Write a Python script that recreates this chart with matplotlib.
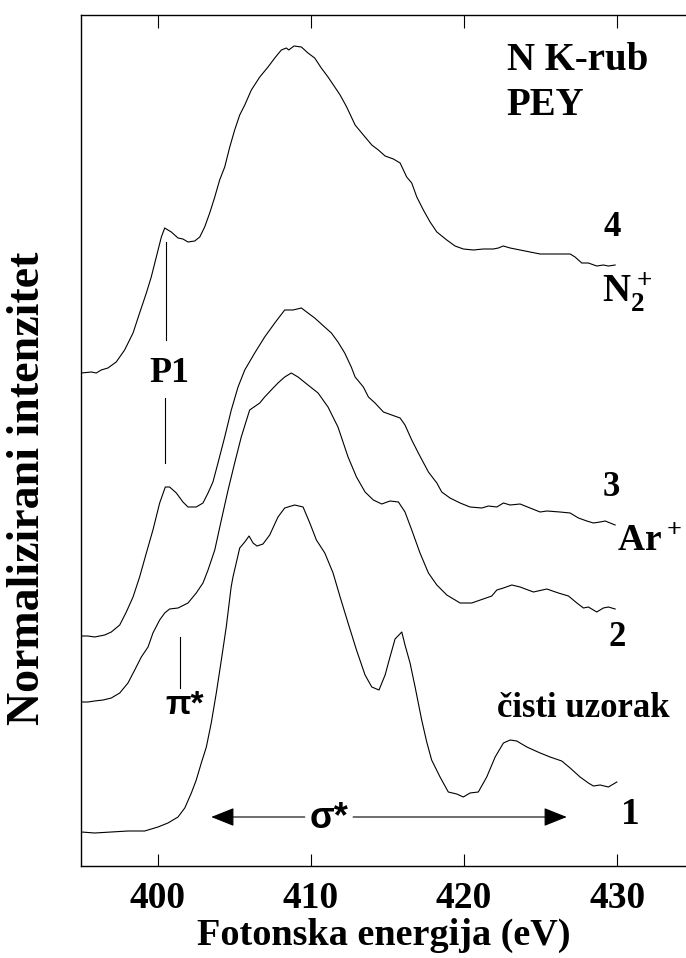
import numpy as np
import matplotlib.pyplot as plt

plt.rcParams['font.family'] = ['Liberation Serif', 'DejaVu Serif']
plt.rcParams['font.weight'] = 'bold'
plt.rcParams['mathtext.fontset'] = 'custom'
plt.rcParams['mathtext.rm'] = 'Liberation Serif:bold'
plt.rcParams['mathtext.bf'] = 'Liberation Serif:bold'

# photon energy (eV) and stacked intensity (arb. units)
energy_1 = [395.0, 395.86, 396.95, 398.04, 399.13, 400.0, 400.65, 401.31, 401.75, 402.18, 402.5, 402.83,
            403.16, 403.48, 403.81, 404.14, 404.46, 404.78, 404.9, 405.34, 405.67, 405.95, 406.21, 406.47,
            406.86, 407.3, 407.84, 408.28, 408.93, 409.48, 409.92, 410.35, 410.9, 411.44, 411.9, 412.42,
            412.97, 413.53, 413.97, 414.44, 414.84, 415.16, 415.49, 415.93, 416.14, 416.47, 416.8, 417.23,
            417.56, 417.88, 418.43, 418.97, 419.52, 419.95, 420.39, 420.93, 421.48, 422.03, 422.57, 423.01,
            423.44, 424.1, 424.97, 425.62, 426.38, 426.93, 427.58, 428.12, 428.45, 428.89, 429.43, 429.98]
clean = [0.34, 0.33, 0.34, 0.35, 0.35, 0.39, 0.43, 0.49, 0.58, 0.73, 0.86, 1.03,
         1.19, 1.43, 1.73, 2.06, 2.39, 2.79, 2.89, 3.18, 3.24, 3.30, 3.23, 3.20,
         3.22, 3.31, 3.49, 3.58, 3.61, 3.59, 3.43, 3.26, 3.13, 2.93, 2.69, 2.43,
         2.16, 1.91, 1.79, 1.76, 1.91, 2.09, 2.27, 2.34, 2.21, 2.03, 1.79, 1.46,
         1.24, 1.06, 0.89, 0.74, 0.72, 0.69, 0.73, 0.74, 0.89, 1.09, 1.23, 1.26,
         1.25, 1.19, 1.13, 1.09, 1.05, 0.98, 0.89, 0.83, 0.80, 0.81, 0.79, 0.84]

energy_2 = [395.0, 395.42, 395.86, 396.41, 396.95, 397.5, 398.04, 398.48, 398.91, 399.35, 399.67, 400.11,
            400.44, 400.76, 401.31, 401.96, 402.5, 402.94, 403.27, 403.71, 404.14, 404.58, 405.01, 405.44,
            405.99, 406.65, 406.97, 407.4, 407.84, 408.28, 408.71, 409.15, 409.8, 410.46, 411.11, 411.76,
            412.42, 412.97, 413.53, 414.07, 414.62, 415.16, 415.71, 416.14, 416.58, 417.12, 417.67, 418.22,
            418.87, 419.74, 420.5, 421.25, 421.81, 422.14, 422.57, 423.12, 423.66, 424.53, 425.41, 426.16,
            426.82, 427.37, 427.8, 428.12, 428.67, 429.1, 429.43, 429.87]
ar_ion = [1.64, 1.64, 1.65, 1.66, 1.68, 1.73, 1.83, 1.96, 2.09, 2.19, 2.33, 2.46,
          2.53, 2.57, 2.58, 2.63, 2.73, 2.83, 2.96, 3.16, 3.46, 3.76, 4.03, 4.29,
          4.56, 4.63, 4.69, 4.76, 4.83, 4.89, 4.93, 4.89, 4.81, 4.73, 4.59, 4.39,
          4.09, 3.89, 3.74, 3.66, 3.62, 3.65, 3.64, 3.54, 3.36, 3.13, 2.93, 2.81,
          2.71, 2.63, 2.63, 2.67, 2.70, 2.76, 2.78, 2.81, 2.79, 2.74, 2.77, 2.73,
          2.70, 2.63, 2.58, 2.59, 2.54, 2.58, 2.59, 2.57]

energy_3 = [395.0, 395.42, 395.86, 396.52, 396.95, 397.5, 397.93, 398.37, 398.8, 399.24, 399.67, 400.11,
            400.48, 400.76, 401.2, 401.63, 401.96, 402.5, 402.94, 403.27, 403.59, 403.92, 404.36, 404.79,
            405.23, 405.67, 406.32, 406.97, 407.63, 408.28, 408.82, 409.37, 409.8, 410.24, 410.89, 411.33,
            411.76, 412.2, 412.63, 412.88, 413.42, 413.75, 414.18, 414.73, 415.27, 415.82, 416.14, 416.58,
            417.01, 417.67, 418.22, 418.54, 419.08, 419.74, 420.39, 421.16, 421.59, 422.14, 422.57, 423.01,
            423.66, 424.31, 424.97, 425.41, 426.27, 426.93, 427.47, 428.02, 428.45, 428.89, 429.22, 429.87]
n2_after = [2.30, 2.30, 2.29, 2.31, 2.34, 2.41, 2.54, 2.69, 2.89, 3.13, 3.36, 3.63,
            3.79, 3.79, 3.73, 3.64, 3.59, 3.59, 3.63, 3.73, 3.84, 4.03, 4.29, 4.56,
            4.79, 4.96, 5.13, 5.29, 5.43, 5.56, 5.56, 5.58, 5.53, 5.48, 5.39, 5.33,
            5.24, 5.13, 4.99, 4.89, 4.79, 4.69, 4.63, 4.54, 4.51, 4.48, 4.41, 4.26,
            4.13, 3.94, 3.83, 3.74, 3.68, 3.63, 3.59, 3.58, 3.60, 3.59, 3.63, 3.61,
            3.62, 3.58, 3.54, 3.55, 3.54, 3.53, 3.48, 3.45, 3.43, 3.44, 3.45, 3.41]

energy_4 = [395.0, 395.64, 395.97, 396.29, 396.73, 397.27, 397.82, 398.37, 398.8, 399.24, 399.56, 399.89,
            400.22, 400.44, 400.87, 401.31, 401.63, 401.96, 402.4, 402.73, 403.05, 403.38, 403.71, 404.03,
            404.36, 404.69, 405.01, 405.34, 405.67, 406.1, 406.65, 407.19, 407.63, 408.06, 408.39, 408.54,
            408.89, 409.37, 409.8, 410.24, 410.67, 411.11, 411.55, 411.9, 412.33, 412.88, 413.42, 413.97,
            414.4, 414.84, 415.38, 415.82, 416.25, 416.58, 416.91, 417.34, 417.78, 418.22, 418.87, 419.41,
            419.95, 420.61, 421.25, 421.91, 422.24, 422.56, 423.01, 423.66, 424.31, 424.97, 425.84, 426.93,
            427.25, 427.69, 428.12, 428.67, 429.1, 429.43, 429.87]
n2_ion = [4.93, 4.94, 4.93, 4.96, 4.98, 5.04, 5.16, 5.33, 5.53, 5.73, 5.89, 6.09,
          6.29, 6.38, 6.34, 6.28, 6.27, 6.24, 6.25, 6.29, 6.39, 6.53, 6.69, 6.86,
          6.99, 7.19, 7.36, 7.51, 7.61, 7.76, 7.89, 7.99, 8.08, 8.16, 8.18, 8.16,
          8.20, 8.19, 8.13, 8.08, 7.98, 7.89, 7.79, 7.71, 7.59, 7.41, 7.31, 7.21,
          7.16, 7.10, 7.07, 7.03, 6.89, 6.83, 6.69, 6.56, 6.44, 6.34, 6.26, 6.20,
          6.17, 6.16, 6.17, 6.17, 6.18, 6.20, 6.18, 6.16, 6.14, 6.12, 6.12, 6.12,
          6.09, 6.03, 6.03, 6.00, 6.01, 6.00, 6.01]

x_ticks = [400, 410, 420, 430]

fig = plt.figure(figsize=(6.86, 9.58), dpi=100)
ax = fig.add_axes([81 / 686, 92 / 958, 605 / 686, 851 / 958])

for e, s in [(energy_1, clean), (energy_2, ar_ion), (energy_3, n2_after), (energy_4, n2_ion)]:
    ax.plot(e, s, color='black', lw=0.8)

ax.set_xlim(394.97, 434.5)
ax.set_ylim(0, 8.51)
ax.set_xticks(x_ticks)
ax.set_yticks([])
ax.tick_params(axis='x', direction='in', top=True, length=9, width=0.8, labelsize=27, pad=11)
for lbl in ax.get_xticklabels():
    lbl.set_fontweight('bold')
ax.spines['right'].set_visible(False)
for sp in ['left', 'bottom', 'top']:
    ax.spines[sp].set_linewidth(1.0)

ax.set_xlabel('Fotonska energija (eV)', fontsize=27.5, fontweight='bold', labelpad=1)
fig.text(28 / 686, 1 - 488 / 958, 'Normalizirani intenzitet', rotation=90, fontsize=33,
         fontweight='bold', ha='center', va='center')

# peak markers
ax.plot([400.54, 400.54], [6.24, 5.26], color='black', lw=0.8)
ax.plot([400.44, 400.44], [4.68, 4.03], color='black', lw=0.8)
ax.text(400.76, 4.93, 'P1', fontsize=26, ha='center', va='center')
ax.plot([401.46, 401.46], [2.29, 1.78], color='black', lw=0.8)
ax.text(401.76, 1.60, 'π*', fontsize=24, ha='center', va='center', family='Liberation Sans')

# sigma* range
arrow = dict(arrowstyle='-|>,head_length=0.5,head_width=0.2', color='black', lw=0.8,
             mutation_scale=29, shrinkA=0, shrinkB=0)
ax.annotate('', xy=(403.48, 0.49), xytext=(409.59, 0.49), arrowprops=arrow)
ax.annotate('', xy=(426.71, 0.49), xytext=(412.75, 0.49), arrowprops=arrow)
ax.text(411.2, 0.48, 'σ*', fontsize=26, ha='center', va='center', family='Liberation Sans')

# labels
ax.text(422.78, 7.96, 'N K-rub', fontsize=28, ha='left', va='baseline')
ax.text(422.78, 7.51, 'PEY', fontsize=28, ha='left', va='baseline')
ax.text(429.67, 6.39, '4', fontsize=25, ha='center', va='center')
ax.text(429.0, 5.63, r'$\mathbf{N_2^+}$', fontsize=28, ha='left', va='baseline')
ax.text(429.65, 3.79, '3', fontsize=25, ha='center', va='center')
ax.text(429.97, 3.16, r'$\mathbf{Ar^+}$', fontsize=27, ha='left', va='baseline')
ax.text(430.03, 2.28, '2', fontsize=25, ha='center', va='center')
ax.text(422.13, 1.49, 'čisti uzorak', fontsize=25, ha='left', va='baseline')
ax.text(430.85, 0.51, '1', fontsize=27, ha='center', va='center')

fig.savefig('out.png', dpi=100)
